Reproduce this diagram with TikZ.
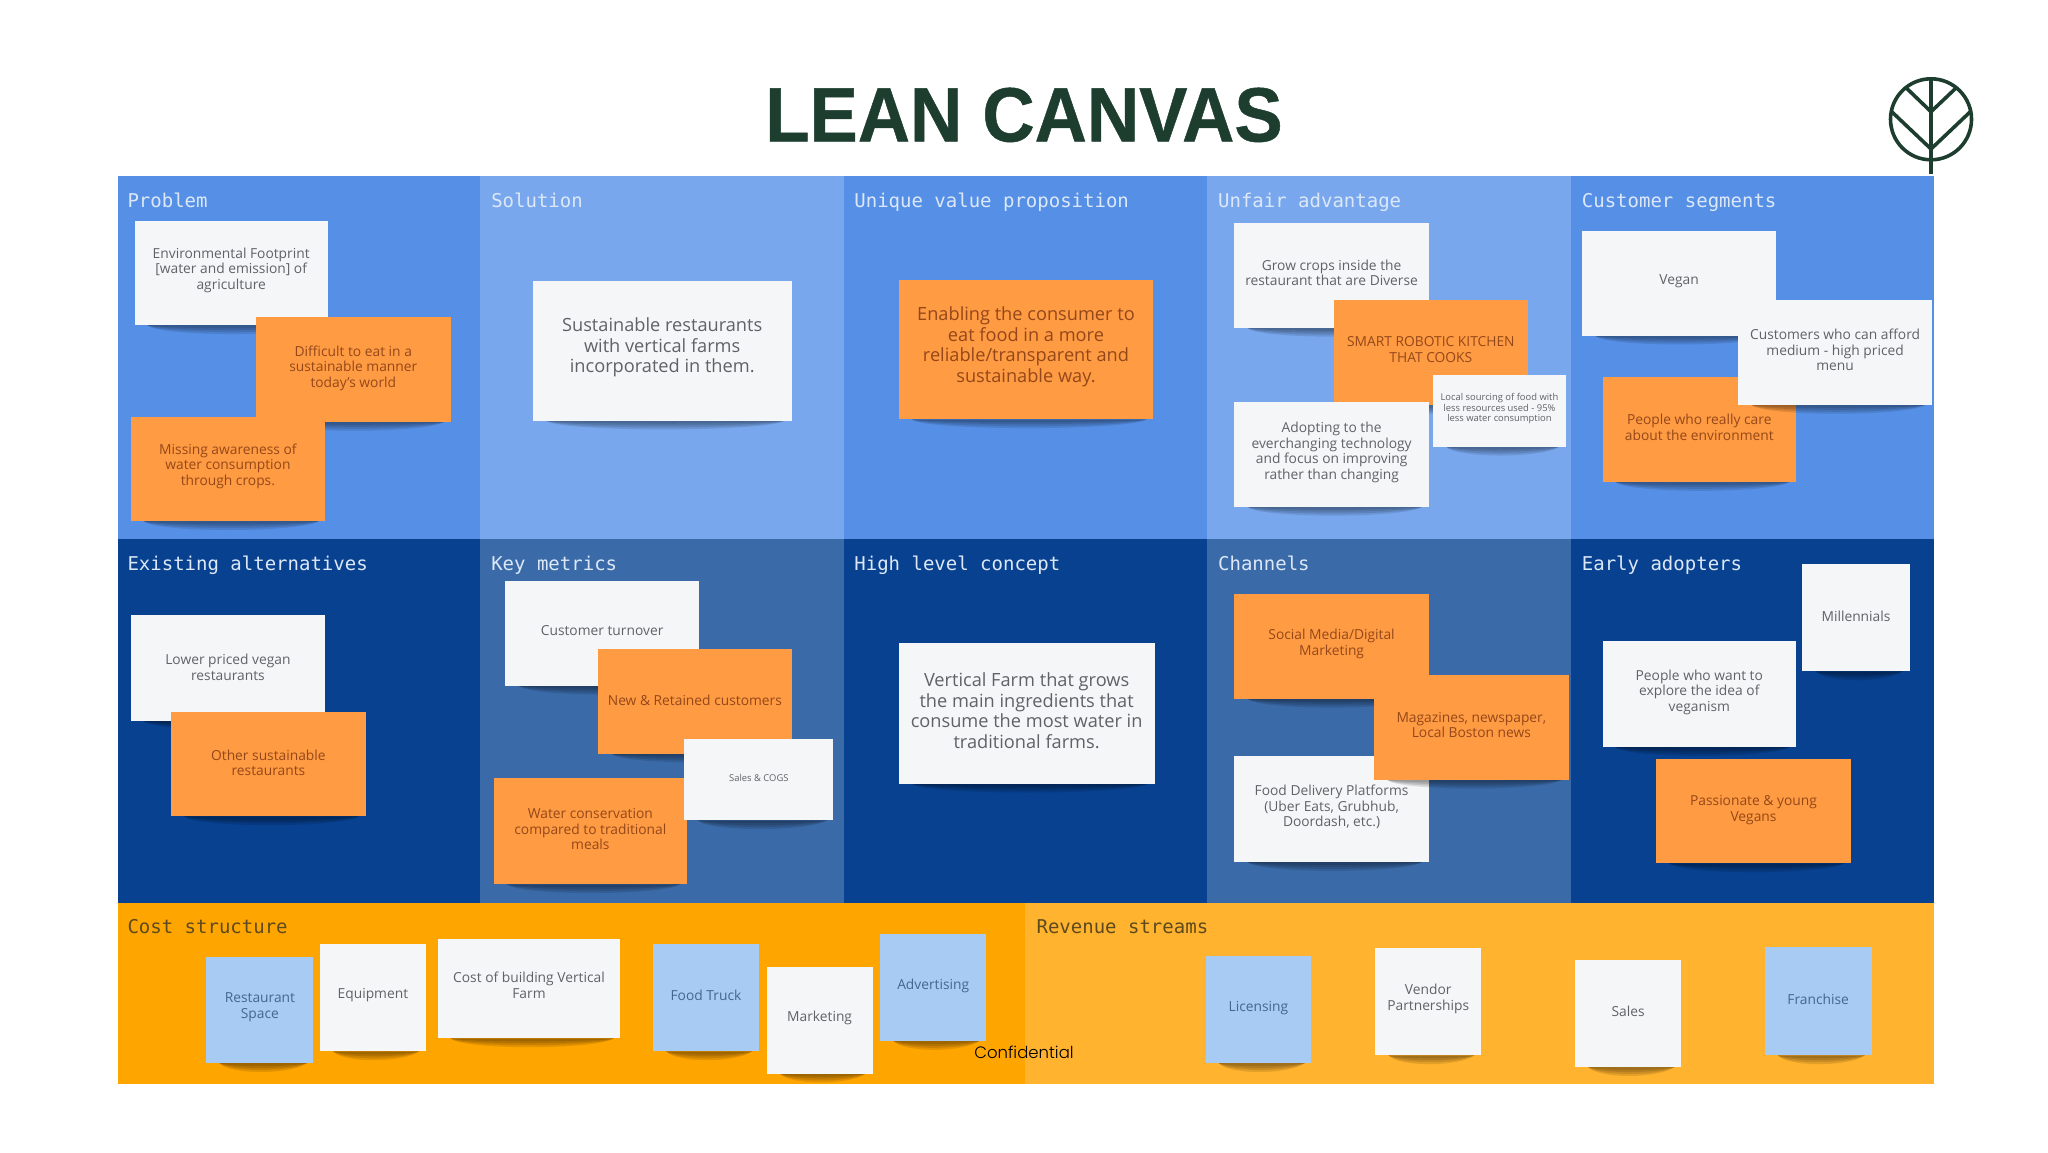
\documentclass[tikz,border=0pt]{standalone}
\usepackage{fontspec}
\setmainfont{Open Sans}
\newfontfamily\titlefont{Liberation Sans Bold}[FakeBold=0.6]
\newfontfamily\headfont{DejaVu Sans Mono}
\newfontfamily\conffont{Poppins Light}
\definecolor{pdark}{HTML}{568FE6}
\definecolor{plight}{HTML}{78A7EE}
\definecolor{rdark}{HTML}{07418F}
\definecolor{rmid}{HTML}{3A6AA8}
\definecolor{costc}{HTML}{FFA500}
\definecolor{revc}{HTML}{FFB32E}
\definecolor{wnote}{HTML}{F5F6F8}
\definecolor{onote}{HTML}{FF9B42}
\definecolor{bnote}{HTML}{A7CBF3}
\definecolor{brandc}{HTML}{1D3D2E}
\definecolor{otxt}{HTML}{94481A}
\definecolor{btxt}{HTML}{44668F}
\definecolor{wtxt}{HTML}{5F6266}
\definecolor{htlight}{HTML}{DCE8F7}
\definecolor{htdark}{HTML}{5E4A1E}
\tikzset{
  wbox/.style={fill=wnote}, obox/.style={fill=onote}, bbox/.style={fill=bnote},
  wtext/.style={text=wtxt}, otext/.style={text=otxt}, btext/.style={text=btxt},
  txs/.style={font=\fontsize{9.4}{10.4}\selectfont},
  txm/.style={font=\fontsize{13.8}{15.6}\selectfont},
  txl/.style={font=\fontsize{18.2}{20.6}\selectfont},
  paneltitle/.style={anchor=base west,inner sep=0pt,font=\headfont\fontsize{19}{22}\selectfont,text=htlight},
  costtitle/.style={paneltitle,text=htdark},
}
\newcount\notenum
\newcommand{\notebox}[8]{%
  \global\advance\notenum by 1
  \foreach \d in {3,5,7,9}{\fill[black,opacity=.11] ({#1+10},#4) .. controls ({#1+18},{#4+\d}) and ({#3-18},{#4+\d}) .. ({#3-5},#4) -- cycle;}
  \fill[#5box] (#1,#2) rectangle (#3,#4);
  \node[#5text,#6,align=center,inner sep=0pt] (note\the\notenum) at ({(#1+#3)/2},{#7+1}) {#8};
}
\begin{document}
\begin{tikzpicture}[x=1.30612pt,y=-1.30612pt]
\useasboundingbox (0,0) rectangle (1568,882);
\fill[white] (0,0) rectangle (1568,882);
\node[text=brandc,font=\titlefont\fontsize{77}{90}\selectfont,inner sep=0pt,xscale=.94] (title) at (784,88) {LEAN CANVAS};
% logo
\begin{scope}[x=1pt,y=-1pt,draw=brandc,line width=3.6pt]
 \draw (1931,119.3) circle[radius=40.5];
 \draw (1931,78.8) -- (1931,174);
 \draw (1906,87.7) -- (1931,111.7) -- (1956,88);
 \draw (1892,112) -- (1931,149) -- (1970,112);
\end{scope}
% panels
\fill[pdark] (90,135) rectangle (367.5,413);
\fill[plight] (367.5,135) rectangle (646,413);
\fill[pdark] (646,135) rectangle (924,413);
\fill[plight] (924,135) rectangle (1202.5,413);
\fill[pdark] (1202.5,135) rectangle (1481,413);
\fill[rdark] (90,413) rectangle (367.5,691);
\fill[rmid] (367.5,413) rectangle (646,691);
\fill[rdark] (646,413) rectangle (924,691);
\fill[rmid] (924,413) rectangle (1202.5,691);
\fill[rdark] (1202.5,413) rectangle (1481,691);
\fill[costc] (90,691) rectangle (785,830);
\fill[revc] (785,691) rectangle (1481,830);
% panel titles
\node[paneltitle] (t1) at (97.5,158.5) {Problem};
\node[paneltitle] (t2) at (376,158.5) {Solution};
\node[paneltitle] (t3) at (654,158.5) {Unique value proposition};
\node[paneltitle] (t4) at (932.5,158.5) {Unfair advantage};
\node[paneltitle] (t5) at (1211,158.5) {Customer segments};
\node[paneltitle] (t6) at (97.5,436.5) {Existing alternatives};
\node[paneltitle] (t7) at (376,436.5) {Key metrics};
\node[paneltitle] (t8) at (654,436.5) {High level concept};
\node[paneltitle] (t9) at (932.5,436.5) {Channels};
\node[paneltitle] (t10) at (1211,436.5) {Early adopters};
\node[costtitle] (t11) at (97.5,714.5) {Cost structure};
\node[costtitle] (t12) at (793.5,714.5) {Revenue streams};
% problem
\notebox{103}{169}{251}{249}{w}{txm}{206}{Environmental Footprint\\{}[water and emission] of\\agriculture}
\notebox{196}{243}{345}{323}{o}{txm}{281}{Difficult to eat in a\\sustainable manner\\today's world}
\notebox{100}{319}{249}{399}{o}{txm}{356}{Missing awareness of\\water consumption\\through crops.}
% solution, uvp
\notebox{408}{215}{606}{322}{w}{txl}{265}{Sustainable restaurants\\with vertical farms\\incorporated in them.}
\notebox{688}{214}{883}{321}{o}{txl}{264.5}{Enabling the consumer to\\eat food in a more\\reliable/transparent and\\sustainable way.}
% unfair
\notebox{945}{171}{1094}{251}{w}{txm}{208}{Grow crops inside the\\restaurant that are Diverse}
\notebox{1021}{230}{1170}{310}{o}{txm}{266.5}{SMART ROBOTIC KITCHEN\\THAT COOKS}
\notebox{945}{308}{1094}{388}{w}{txm}{345.5}{Adopting to the\\everchanging technology\\and focus on improving\\rather than changing}
\notebox{1097}{287}{1199}{342}{w}{txs}{312}{Local sourcing of food with\\less resources used - 95\%\\less water consumption}
% customer
\notebox{1211}{177}{1360}{257}{w}{txm}{214}{Vegan}
\notebox{1227}{289}{1375}{369}{o}{txm}{326}{People who really care\\about the environment}
\notebox{1331}{230}{1479}{310}{w}{txm}{267}{Customers who can afford\\medium - high priced\\menu}
% existing
\notebox{100}{471}{249}{552}{w}{txm}{510}{Lower priced vegan\\restaurants}
\notebox{131}{545}{280}{625}{o}{txm}{583}{Other sustainable\\restaurants}
% key metrics
\notebox{387}{445}{535}{525}{w}{txm}{482}{Customer turnover}
\notebox{458}{497}{606}{577}{o}{txm}{535}{New \& Retained customers}
\notebox{378}{596}{526}{677}{o}{txm}{634}{Water conservation\\compared to traditional\\meals}
\notebox{524}{566}{638}{628}{w}{txs}{595}{Sales \& COGS}
% high level
\notebox{688}{492}{884}{600}{w}{txl}{543}{Vertical Farm that grows\\the main ingredients that\\consume the most water in\\traditional farms.}
% channels
\notebox{945}{455}{1094}{535}{o}{txm}{492}{Social Media/Digital\\Marketing}
\notebox{945}{579}{1094}{660}{w}{txm}{617}{Food Delivery Platforms\\(Uber Eats, Grubhub,\\Doordash, etc.)}
\notebox{1052}{517}{1201}{597}{o}{txm}{554}{Magazines, newspaper,\\Local Boston news}
% early
\notebox{1380}{432}{1462}{514}{w}{txm}{471}{Millennials}
\notebox{1227}{491}{1375}{572}{w}{txm}{529}{People who want to\\explore the idea of\\veganism}
\notebox{1268}{581}{1417}{661}{o}{txm}{619}{Passionate \& young\\Vegans}
% cost
\notebox{158}{733}{240}{814}{b}{txm}{770}{Restaurant\\Space}
\notebox{245}{723}{326}{805}{w}{txm}{761}{Equipment}
\notebox{335}{719}{475}{795}{w}{txm}{753.5}{Cost of building Vertical\\Farm}
\notebox{500}{723}{581}{805}{b}{txm}{761}{Food Truck}
\notebox{587}{740}{668}{822}{w}{txm}{778}{Marketing}
\notebox{674}{715}{755}{797}{b}{txm}{754}{Advertising}
% revenue
\notebox{923}{732}{1004}{814}{b}{txm}{771}{Licensing}
\notebox{1053}{726}{1134}{808}{w}{txm}{764}{Vendor\\Partnerships}
\notebox{1206}{735}{1287}{817}{w}{txm}{773}{Sales}
\notebox{1351}{725}{1433}{808}{b}{txm}{764}{Franchise}
\node[text=black,font=\conffont\fontsize{16.5}{20}\selectfont,inner sep=0pt] (conf) at (784,806) {Confidential};
\end{tikzpicture}
\end{document}
